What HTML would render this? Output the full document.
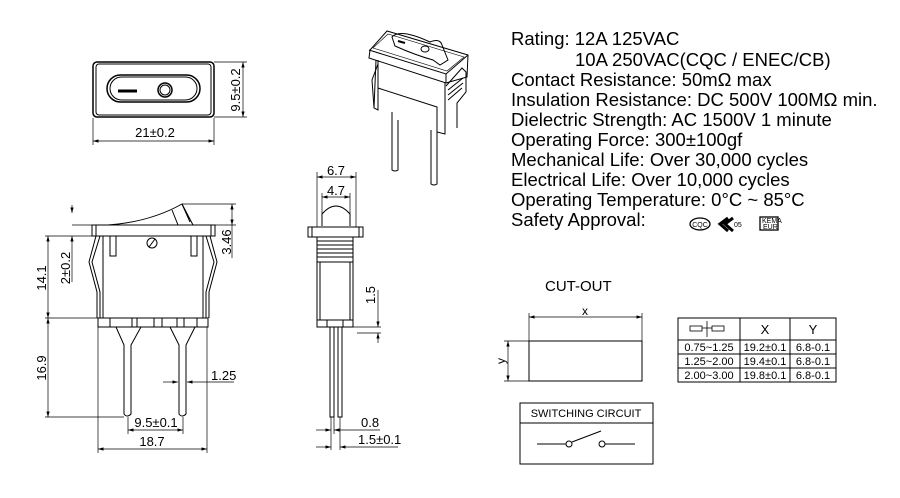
<!DOCTYPE html>
<html><head><meta charset="utf-8"><style>
html,body{margin:0;padding:0;background:#fff;}
svg{display:block;font-family:"Liberation Sans",sans-serif;}
</style></head><body>
<svg width="900" height="498" viewBox="0 0 900 498" xmlns="http://www.w3.org/2000/svg">
<defs>
<marker id="a" viewBox="0 0 10 6" refX="10" refY="3" markerWidth="8" markerHeight="5" orient="auto-start-reverse"><path d="M0,0 L10,3 L0,6 z" fill="#000"/></marker>
</defs>
<g fill="none" stroke="#000" stroke-width="1">
<!-- top view -->
<rect x="93" y="62" width="121" height="55" rx="4" stroke-width="1.5"/>
<rect x="96" y="64" width="115" height="51" rx="3"/>
<rect x="107" y="75" width="93" height="27" rx="13.5" stroke-width="1.5"/>
<rect x="110" y="77" width="87" height="23" rx="11.5"/>
<line x1="118" y1="91" x2="137" y2="91" stroke-width="3"/>
<circle cx="165" cy="90" r="7" stroke-width="1.5"/>
<circle cx="165" cy="90" r="5"/>
<line x1="93" y1="118" x2="93" y2="145" stroke-width=".7"/><line x1="214" y1="118" x2="214" y2="145" stroke-width=".7"/>
<line x1="93" y1="141" x2="214" y2="141" stroke-width=".7" marker-start="url(#a)" marker-end="url(#a)"/>
<line x1="214" y1="62" x2="247" y2="62" stroke-width=".7"/><line x1="214" y1="117" x2="247" y2="117" stroke-width=".7"/>
<line x1="243" y1="62" x2="243" y2="117" stroke-width=".7" marker-start="url(#a)" marker-end="url(#a)"/>

<!-- side view -->
<path d="M108,225 Q150,222 182,204 L193,225" />
<path d="M172,210 L178,225 M182,204 L190,222"/>
<rect x="92" y="225" width="123" height="11"/>
<rect x="96" y="225" width="115" height="11"/>
<rect x="103" y="236" width="100" height="82"/>
<path d="M100,236 L92,262 L100,292 L100,318 M96,236 L89,262 L97,292 L97,318"/>
<path d="M206,236 L214,262 L206,292 L206,318 M210,236 L217,262 L209,292 L209,318"/>
<rect x="110" y="236" width="6" height="20"/><rect x="191" y="236" width="6" height="20"/>
<circle cx="152" cy="243" r="5"/><line x1="149" y1="247" x2="155" y2="239"/>
<rect x="98" y="318" width="110" height="9"/>
<path d="M110,318 V327 M132,318 V327 M137,318 V327 M154,318 V327 M162,318 V327 M177,318 V327 M184,318 V327 M197,318 V327"/>
<path d="M116,327 L124,345 L124,414 Q127,418 131,414 L131,345 L141,327"/>
<path d="M170,327 L179,345 L179,414 Q182,418 186,414 L186,345 L195,327"/>
<!-- side dims -->
<line x1="72" y1="225" x2="92" y2="225" stroke-width=".7"/>
<line x1="72" y1="205" x2="72" y2="213" stroke-width=".7" marker-end="url(#a)"/>
<line x1="182" y1="204" x2="236" y2="204" stroke-width=".7"/>
<line x1="215" y1="225" x2="236" y2="225" stroke-width=".7"/>
<line x1="232" y1="204" x2="232" y2="225" stroke-width=".7" marker-start="url(#a)" marker-end="url(#a)"/>
<line x1="232" y1="225" x2="232" y2="258" stroke-width=".7"/>
<line x1="45" y1="236" x2="98" y2="236" stroke-width=".7"/>
<line x1="45" y1="318" x2="98" y2="318" stroke-width=".7"/>
<line x1="45" y1="417" x2="124" y2="417" stroke-width=".7"/>
<line x1="48" y1="236" x2="48" y2="318" stroke-width=".7" marker-start="url(#a)" marker-end="url(#a)"/>
<line x1="48" y1="318" x2="48" y2="417" stroke-width=".7" marker-start="url(#a)" marker-end="url(#a)"/>
<line x1="72" y1="236" x2="72" y2="282" stroke-width=".7" marker-start="url(#a)"/>
<line x1="163" y1="382" x2="178" y2="382" stroke-width=".7" marker-end="url(#a)"/>
<line x1="234" y1="382" x2="187" y2="382" stroke-width=".7" marker-end="url(#a)"/>
<line x1="128" y1="417" x2="128" y2="434" stroke-width=".7"/><line x1="183" y1="417" x2="183" y2="434" stroke-width=".7"/>
<line x1="128" y1="430" x2="183" y2="430" stroke-width=".7" marker-start="url(#a)" marker-end="url(#a)"/>
<line x1="98" y1="327" x2="98" y2="453" stroke-width=".7"/><line x1="207" y1="327" x2="207" y2="453" stroke-width=".7"/>
<line x1="98" y1="449" x2="207" y2="449" stroke-width=".7" marker-start="url(#a)" marker-end="url(#a)"/>

<!-- front view -->
<path d="M322,226 L322,214 Q336,198 350,214 L350,226"/>
<rect x="308" y="227" width="55" height="10"/>
<rect x="312" y="227" width="47" height="10"/>
<rect x="317" y="237" width="36" height="90"/>
<path d="M317,241 H353 M317,245 H353 M317,249 H353 M317,253 H353 M317,257 H353 M317,262 H353 M320,262 V320 M350,262 V320"/>
<path d="M317,320 H353 M327,320 V327 M343,320 V327"/>
<rect x="330" y="327" width="4" height="90"/>
<rect x="338" y="327" width="4" height="90"/>
<line x1="317" y1="172" x2="317" y2="227" stroke-width=".7"/><line x1="356" y1="172" x2="356" y2="227" stroke-width=".7"/>
<line x1="317" y1="177" x2="356" y2="177" stroke-width=".7" marker-start="url(#a)" marker-end="url(#a)"/>
<line x1="322" y1="193" x2="322" y2="214" stroke-width=".7"/><line x1="350" y1="193" x2="350" y2="214" stroke-width=".7"/>
<line x1="322" y1="197" x2="350" y2="197" stroke-width=".7" marker-start="url(#a)" marker-end="url(#a)"/>
<line x1="353" y1="327" x2="381" y2="327" stroke-width=".7"/><line x1="357" y1="333" x2="381" y2="333" stroke-width=".7"/>
<line x1="378" y1="290" x2="378" y2="327" stroke-width=".7" marker-end="url(#a)"/>
<line x1="378" y1="343" x2="378" y2="333" stroke-width=".7" marker-end="url(#a)"/>
<line x1="331" y1="417" x2="331" y2="450" stroke-width=".7"/><line x1="334" y1="417" x2="334" y2="434" stroke-width=".7"/>
<line x1="340" y1="417" x2="340" y2="450" stroke-width=".7"/>
<line x1="316" y1="430" x2="331" y2="430" stroke-width=".7" marker-end="url(#a)"/>
<line x1="380" y1="430" x2="334" y2="430" stroke-width=".7" marker-end="url(#a)"/>
<line x1="316" y1="447" x2="331" y2="447" stroke-width=".7" marker-end="url(#a)"/>
<line x1="398" y1="447" x2="340" y2="447" stroke-width=".7" marker-end="url(#a)"/>

<!-- 3D view -->
<path d="M370,50 L387,31 L468,55 L467,77 L446,83 L369,58 Z"/>
<path d="M369,50 L446,74 L468,55 M446,74 L446,83"/>
<path d="M373,48 L388,34 L464,57 L447,71 Z" stroke-width=".6"/>
<path d="M392,37 Q400,28 430,42 Q440,38 442,45 L448,60 L440,65 L433,60 Q415,55 395,46 Z"/>
<line x1="398" y1="41" x2="405" y2="43" stroke-width="2"/>
<ellipse cx="425" cy="49" rx="4" ry="3"/>
<path d="M376,60 L374,108 L378,110 L378,60 M378,88 L437,107 L437,132 L445,134 L445,83"/>
<path d="M378,64 L372,80 L374,108 M446,86 L462,68 L466,72 L466,92 L457,103 L457,128"/>
<path d="M448,90 L463,78 M448,95 L463,83 M448,100 L462,88"/>
<path d="M392,112 L392,170 Q395,172 398,170 L398,120"/>
<path d="M431,130 L431,184 Q434,186 437,184 L437,132"/>

<!-- cutout -->
<rect x="529" y="341" width="113" height="40"/>
<line x1="529" y1="313" x2="529" y2="341" stroke-width=".7"/><line x1="642" y1="313" x2="642" y2="341" stroke-width=".7"/>
<line x1="529" y1="317" x2="642" y2="317" stroke-width=".7" marker-start="url(#a)" marker-end="url(#a)"/>
<line x1="504" y1="341" x2="529" y2="341" stroke-width=".7"/><line x1="504" y1="381" x2="529" y2="381" stroke-width=".7"/>
<line x1="508" y1="341" x2="508" y2="381" stroke-width=".7" marker-start="url(#a)" marker-end="url(#a)"/>
<!-- table -->
<rect x="678" y="318" width="158" height="64"/>
<path d="M740,318 V382 M790,318 V382 M678,340 H836 M678,354 H836 M678,368 H836"/>
<rect x="690" y="326" width="12" height="5" stroke-width=".8"/><rect x="712" y="326" width="12" height="5" stroke-width=".8"/>
<line x1="707" y1="321" x2="707" y2="337" stroke-width=".8"/><line x1="702" y1="328" x2="712" y2="328" stroke-width=".8"/>
<!-- switching circuit -->
<rect x="520" y="403" width="133" height="61"/>
<line x1="520" y1="423" x2="653" y2="423"/>
<line x1="537" y1="444" x2="566" y2="444"/>
<circle cx="569" cy="444" r="3"/>
<line x1="572" y1="442" x2="601" y2="431"/>
<circle cx="602" cy="444" r="3"/>
<line x1="605" y1="444" x2="635" y2="444"/>
<!-- cert icons -->
<ellipse cx="700" cy="224" rx="10" ry="6" stroke-width="1.3"/>
<path d="M728,218 L720,224 L728,231 M733,218 L725,224 L733,231" stroke-width="3"/>
<rect x="760" y="217" width="18" height="13" stroke-width="1.3"/>
</g>

<g font-size="13" fill="#000">
<text x="155" y="137" text-anchor="middle">21±0.2</text>
<text transform="translate(240,90) rotate(-90)" text-anchor="middle">9.5±0.2</text>
<text transform="translate(231,242) rotate(-90)" text-anchor="middle">3.46</text>
<text transform="translate(46,278) rotate(-90)" text-anchor="middle">14.1</text>
<text transform="translate(70,268) rotate(-90)" text-anchor="middle">2±0.2</text>
<text transform="translate(46,368) rotate(-90)" text-anchor="middle">16.9</text>
<text x="211" y="380">1.25</text>
<text x="156" y="427" text-anchor="middle">9.5±0.1</text>
<text x="152" y="446" text-anchor="middle">18.7</text>
<text x="336" y="175" text-anchor="middle">6.7</text>
<text x="336" y="195" text-anchor="middle">4.7</text>
<text transform="translate(375,295) rotate(-90)" text-anchor="middle">1.5</text>
<text x="361" y="427">0.8</text>
<text x="358" y="444">1.5±0.1</text>
<text x="585" y="315" text-anchor="middle" font-size="12">x</text>
<text transform="translate(505,361) rotate(-90)" text-anchor="middle" font-size="12">y</text>
<text x="545" y="291" font-size="15">CUT-OUT</text>
<text x="765" y="334" text-anchor="middle" font-size="13">X</text>
<text x="813" y="334" text-anchor="middle" font-size="13">Y</text>
<g font-size="11">
<text x="709" y="351" text-anchor="middle">0.75~1.25</text>
<text x="765" y="351" text-anchor="middle">19.2±0.1</text>
<text x="813" y="351" text-anchor="middle">6.8-0.1</text>
<text x="709" y="365" text-anchor="middle">1.25~2.00</text>
<text x="765" y="365" text-anchor="middle">19.4±0.1</text>
<text x="813" y="365" text-anchor="middle">6.8-0.1</text>
<text x="709" y="379" text-anchor="middle">2.00~3.00</text>
<text x="765" y="379" text-anchor="middle">19.8±0.1</text>
<text x="813" y="379" text-anchor="middle">6.8-0.1</text>
<text x="586" y="417" text-anchor="middle">SWITCHING CIRCUIT</text>
</g>
<g font-size="7"><text x="700" y="227" text-anchor="middle">CQC</text><text x="734" y="227">05</text><text x="762" y="223">KEMA</text><text x="763" y="229">EUR</text></g>
<g font-size="18.5" xml:space="preserve">
<text x="511" y="45">Rating: 12A 125VAC</text>
<text x="575" y="66">10A  250VAC(CQC / ENEC/CB)</text>
<text x="511" y="86">Contact Resistance: 50mΩ max</text>
<text x="511" y="106">Insulation Resistance: DC 500V 100MΩ min.</text>
<text x="511" y="126">Dielectric Strength: AC 1500V 1 minute</text>
<text x="511" y="146">Operating Force: 300±100gf</text>
<text x="511" y="166">Mechanical Life: Over 30,000 cycles</text>
<text x="511" y="186">Electrical Life: Over 10,000 cycles</text>
<text x="511" y="206">Operating Temperature: 0°C ~ 85°C</text>
<text x="511" y="226">Safety Approval:</text>
</g>
</g>
</svg>
</body></html>
